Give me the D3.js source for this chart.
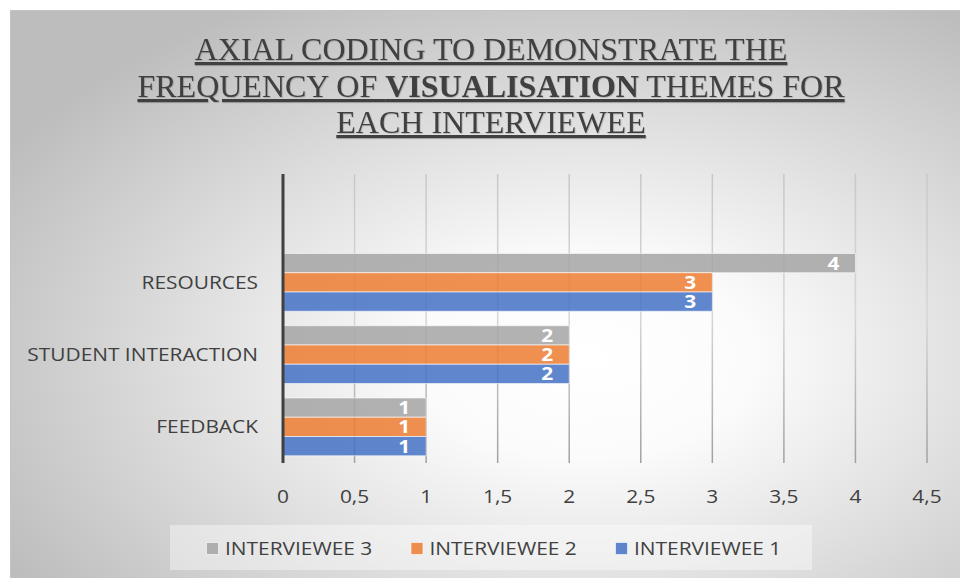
<!DOCTYPE html>
<html>
<head>
<meta charset="utf-8">
<script src="https://cdn.jsdelivr.net/npm/d3@7"></script>
<style>
  body { margin: 0; background: #fff; }
  svg { display: block; }
  .title { font-family: 'Liberation Serif', 'DejaVu Serif', 'Noto Serif', serif; }
</style>
</head>
<body>
<div id="chart"></div>
<script>
// chart values
const categories = ['RESOURCES', 'STUDENT INTERACTION', 'FEEDBACK']
const series = ['INTERVIEWEE 3', 'INTERVIEWEE 2', 'INTERVIEWEE 1']
const interviewee3 = [4, 2, 1]
const interviewee2 = [3, 2, 1]
const interviewee1 = [3, 2, 1]
const xTicks = [0, 0.5, 1, 1.5, 2, 2.5, 3, 3.5, 4, 4.5]
const colors = ['#A5A5A5', '#ED7D31', '#4472C4']

const values = [interviewee3, interviewee2, interviewee1]

const width = 960
const height = 578
const textColor = '#404040'
const sans = '"Open Sans", sans-serif'
// the sans labels in the picture are a little wider than Open Sans
const stretch = 1.16

const comma = d3.formatLocale({ decimal: ',', thousands: '.', grouping: [3], currency: ['', ''] }).format('~g')

const place = (px, py) => 'translate(' + px + ',' + py + ') scale(' + stretch + ',1)'

const svg = d3.select('#chart')
.append('svg')
.attr('width', width)
.attr('height', height)

const defs = svg.append('defs')

const bg = defs.append('radialGradient')
.attr('id', 'bg')
.attr('cx', '0.6')
.attr('cy', '0.6')
.attr('r', '0.7')
bg.append('stop').attr('offset', '0').attr('stop-color', '#ffffff')
bg.append('stop').attr('offset', '0.25').attr('stop-color', '#fbfbfb')
bg.append('stop').attr('offset', '1').attr('stop-color', '#bdbdbd')

const shadow = defs.append('filter').attr('id', 'shadow')
shadow.append('feDropShadow')
.attr('dx', 0.8).attr('dy', 0.8).attr('stdDeviation', 0.5)
.attr('flood-color', '#000').attr('flood-opacity', 0.2)

svg.append('rect')
.attr('x', 10.5)
.attr('y', 10.5)
.attr('width', 960)
.attr('height', 578)
.attr('fill', 'url(#bg)')
.attr('stroke', '#c4c4c4')

// title
const title = svg.append('text')
.attr('class', 'title')
.attr('x', 491)
.attr('font-size', 32)
.attr('fill', textColor)
.attr('text-anchor', 'middle')
.attr('filter', 'url(#shadow)')
.style('text-decoration', 'underline')

title.append('tspan').attr('x', 491).attr('y', 60).text('AXIAL CODING TO DEMONSTRATE THE')
const l2 = title.append('tspan').attr('x', 491).attr('y', 97)
l2.append('tspan').text('FREQUENCY OF ')
l2.append('tspan').attr('font-weight', 'bold').text('VISUALISATION')
l2.append('tspan').text(' THEMES FOR')
title.append('tspan').attr('x', 491).attr('y', 133).text('EACH INTERVIEWEE')

// scales
const plotTop = 174
const plotBottom = 463

const x = d3.scaleLinear()
.domain([0, 4.5])
.range([283, 927])

const y = d3.scaleBand()
.domain([''].concat(categories))
.range([plotTop, plotBottom])
.paddingInner(0.2)
.paddingOuter(0.1)

const ySub = d3.scaleBand()
.domain(series)
.range([0, y.bandwidth()])

// grid
const gridGrad = defs.append('linearGradient')
.attr('id', 'grid')
.attr('gradientUnits', 'userSpaceOnUse')
.attr('x1', 0).attr('x2', 0).attr('y1', plotTop).attr('y2', plotBottom)
gridGrad.append('stop').attr('offset', '0').attr('stop-color', '#c8c8c8')
gridGrad.append('stop').attr('offset', '0.5').attr('stop-color', '#d6d6d6')
gridGrad.append('stop').attr('offset', '1').attr('stop-color', '#a0a0a0')

svg.append('g')
.selectAll('line')
.data(xTicks.filter(d => d > 0))
.enter()
.append('line')
.attr('x1', d => x(d))
.attr('x2', d => x(d))
.attr('y1', plotTop)
.attr('y2', plotBottom)
.attr('stroke', 'url(#grid)')
.attr('stroke-width', 1.5)

// x tick labels
svg.append('g')
.selectAll('text')
.data(xTicks)
.enter()
.append('text')
.attr('transform', d => place(x(d), 503))
.attr('text-anchor', 'middle')
.attr('font-family', sans)
.attr('font-size', 18)
.attr('fill', textColor)
.text(d => comma(d))

// bars
const groups = svg.append('g')
.selectAll('g')
.data(categories)
.enter()
.append('g')
.attr('transform', d => 'translate(0,' + y(d) + ')')

groups.selectAll('rect')
.data((c, ci) => series.map((s, si) => ({ s, si, v: values[si][ci] })))
.enter()
.append('rect')
.attr('x', x(0))
.attr('y', d => ySub(d.s))
.attr('width', d => x(d.v) - x(0))
.attr('height', ySub.bandwidth())
.attr('fill', d => colors[d.si])
.attr('fill-opacity', 0.85)
.attr('stroke', '#ffffff')
.attr('stroke-opacity', 0.6)
.attr('stroke-width', 1)

groups.selectAll('text')
.data((c, ci) => series.map((s, si) => ({ s, si, v: values[si][ci] })))
.enter()
.append('text')
.attr('transform', d => place(x(d.v) - 22, ySub(d.s) + ySub.bandwidth() / 2))
.attr('dy', '0.36em')
.attr('text-anchor', 'middle')
.attr('font-family', sans)
.attr('font-weight', 'bold')
.attr('font-size', 18)
.attr('fill', '#ffffff')
.text(d => d.v)

// category labels
svg.append('g')
.selectAll('text')
.data(categories)
.enter()
.append('text')
.attr('transform', d => place(258, y(d) + y.bandwidth() / 2))
.attr('dy', '0.36em')
.attr('text-anchor', 'end')
.attr('font-family', sans)
.attr('font-size', 18)
.attr('fill', textColor)
.text(d => d)

// y axis line
svg.append('line')
.attr('x1', x(0))
.attr('x2', x(0))
.attr('y1', plotTop)
.attr('y2', plotBottom)
.attr('stroke', textColor)
.attr('stroke-width', 3)

// legend
const legend = svg.append('g')

legend.append('rect')
.attr('x', 170)
.attr('y', 525)
.attr('width', 642)
.attr('height', 45)
.attr('fill', '#ffffff')
.attr('fill-opacity', 0.4)

const items = legend.selectAll('g')
.data(series)
.enter()
.append('g')
.attr('transform', (d, i) => 'translate(' + (206 + i * 204.5) + ',0)')

items.append('rect')
.attr('x', 0.5)
.attr('y', 542.5)
.attr('width', 12)
.attr('height', 12)
.attr('fill', (d, i) => colors[i])
.attr('fill-opacity', 0.85)
.attr('stroke', '#ffffff')
.attr('stroke-opacity', 0.6)

items.append('text')
.attr('transform', place(19, 548.5))
.attr('dy', '0.36em')
.attr('font-family', sans)
.attr('font-size', 18)
.attr('fill', textColor)
.text(d => d)
</script>
</body>
</html>
